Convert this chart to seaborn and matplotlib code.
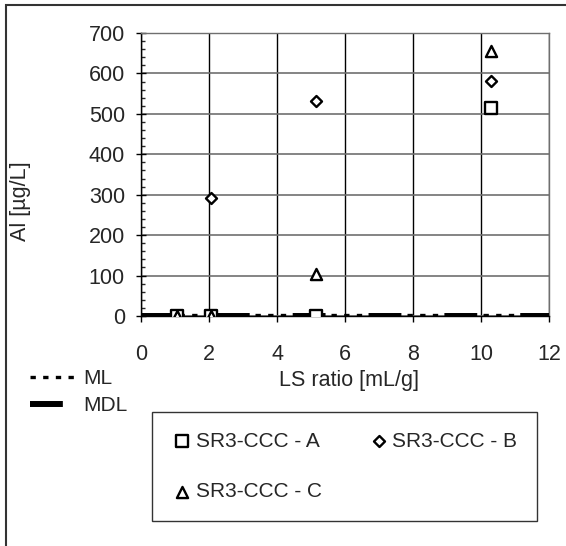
import matplotlib
matplotlib.use("Agg")
import matplotlib.pyplot as plt
from matplotlib.patches import Rectangle
import seaborn as sns
import pandas as pd

# ---- data ----
series_names = ["SR3-CCC - A", "SR3-CCC - B", "SR3-CCC - C"]
a_x = [1.05, 2.05, 5.15, 10.3]
a_y = [0, 0, 0, 515]
b_x = [2.05, 5.15, 10.3]
b_y = [292, 532, 582]
c_x = [1.05, 2.05, 5.15, 10.3]
c_y = [0, 0, 105, 655]
ml_x = [0, 12]
ml_y = [1.5, 1.5]
mdl_x = [0, 12]
mdl_y = [0.5, 0.5]
x_ticks = [0, 2, 4, 6, 8, 10, 12]
y_ticks = [0, 100, 200, 300, 400, 500, 600, 700]

df = pd.DataFrame({
    "x": a_x + b_x + c_x,
    "y": a_y + b_y + c_y,
    "series": [series_names[0]] * len(a_x) + [series_names[1]] * len(b_x) + [series_names[2]] * len(c_x),
})

sns.set_style("white")
plt.rcParams["font.family"] = ["Liberation Sans", "DejaVu Sans"]
FS = 15.5
LFS = 15

W, H = 566, 546
fig = plt.figure(figsize=(W / 100, H / 100), dpi=100)
ax = fig.add_axes([141 / W, 1 - 316 / H, (549 - 141) / W, (316 - 33) / H])

# ML / MDL lines
sns.lineplot(x=mdl_x, y=mdl_y, ax=ax, color="black", linewidth=4.3,
             linestyle=(0, (5.5, 7.2)), label="MDL", zorder=3)
sns.lineplot(x=ml_x, y=ml_y, ax=ax, color="black", linewidth=2.4,
             linestyle=(0, (1.6, 2.2)), label="ML", zorder=3)

markers = {series_names[0]: "s", series_names[1]: "D", series_names[2]: "^"}
sizes_pt = {series_names[0]: 8, series_names[1]: 5.6, series_names[2]: 8}
for name in series_names:
    sub = df[df["series"] == name]
    sns.scatterplot(data=sub, x="x", y="y", ax=ax, marker=markers[name],
                    s=sizes_pt[name] ** 2, facecolor="white", edgecolor="black",
                    linewidth=1.7, label=name, zorder=4)

ax.set_xlim(0, 12)
ax.set_ylim(0, 700)
ax.set_xticks(x_ticks)
ax.set_yticks(y_ticks)
ax.set_yticks(range(0, 701, 20), minor=True)
ax.tick_params(axis="x", which="major", direction="out", length=4.5, width=1,
               labelsize=FS, color="black", pad=16, bottom=True)
ax.tick_params(axis="y", which="major", direction="inout", length=7.2, width=1,
               labelsize=FS, color="black", pad=8, left=True)
ax.tick_params(axis="y", which="minor", direction="in", length=3, width=1, left=True)
ax.xaxis.grid(True, which="major", color="black", linewidth=1)
ax.yaxis.grid(True, which="major", color="#6f6f6f", linewidth=1.2)
for s in ax.spines.values():
    s.set_linewidth(1)
ax.spines["left"].set_color("black")
ax.spines["bottom"].set_color("black")
ax.spines["top"].set_color("#6f6f6f")
ax.spines["right"].set_color("#6f6f6f")
ax.set_xlabel("LS ratio [mL/g]", fontsize=FS)
ax.set_ylabel("Al [µg/L]", fontsize=FS)
ax.xaxis.set_label_coords((349 - 141) / 408, (316 - 370) / 283)
ax.yaxis.set_label_coords((31 - 141) / 408, (316 - 201) / 283)
ax.set_axisbelow(True)

handles, labels = ax.get_legend_handles_labels()
if ax.get_legend():
    ax.get_legend().remove()
hmap = dict(zip(labels, handles))

# ML / MDL legend
leg1 = fig.legend([hmap["ML"], hmap["MDL"]], ["ML", "MDL"], loc="upper left",
                  bbox_to_anchor=(30 / W, 1 - 369 / H), frameon=False,
                  handlelength=2.4, handletextpad=0.15, labelspacing=0.38,
                  fontsize=LFS, borderpad=0, borderaxespad=0)

# series legend (row 1: A, B; row 2: C)
order = [series_names[0], series_names[2], series_names[1]]
leg2 = fig.legend([hmap[n] for n in order], order, loc="upper left",
                  bbox_to_anchor=(152 / W, 1 - 520 / H, (537 - 152) / W, (520 - 412) / H),
                  mode="expand", ncol=2, frameon=True, fancybox=False,
                  edgecolor="black", fontsize=LFS, handlelength=1.0,
                  handletextpad=0.15, labelspacing=1.5, borderpad=0.95,
                  borderaxespad=0, columnspacing=2)
leg2.get_frame().set_linewidth(1)

fig.patches.append(Rectangle((6 / W, -0.05), 1.2, 1 - 5 / H + 0.05, transform=fig.transFigure,
                             fill=False, edgecolor="#333333", linewidth=1.5))

fig.savefig("out.png", dpi=100)
